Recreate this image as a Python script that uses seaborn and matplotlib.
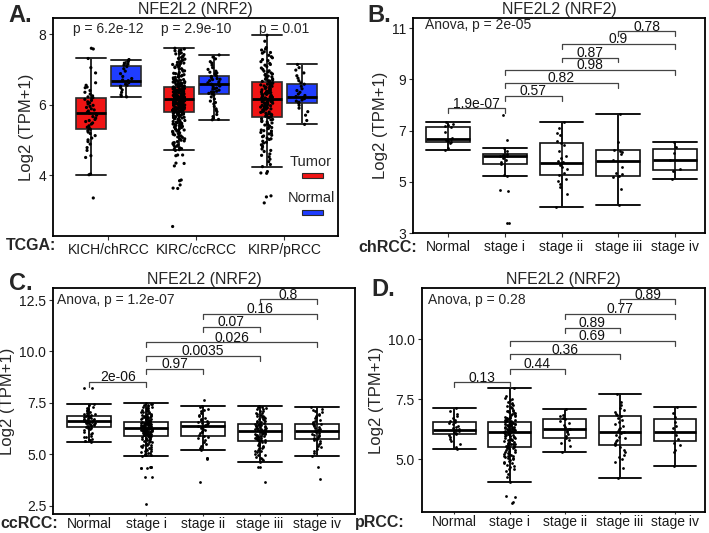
"""
NFE2L2 (NRF2) expression in TCGA kidney cancers: tumor vs normal and by stage.
"""

import numpy as np
import pandas as pd
import matplotlib
matplotlib.use("Agg")
import matplotlib.pyplot as plt
from matplotlib.patches import Rectangle
import seaborn as sns

sns.set_style("ticks")
plt.rcParams["font.family"] = ["Liberation Sans", "DejaVu Sans"]
plt.rcParams["axes.edgecolor"] = "black"
plt.rcParams["axes.linewidth"] = 1.3

np.random.seed(3)  # jitter only

# ── Panel A data: TCGA tumor vs normal ────────────────────────────────
a_cancers = ["KICH/chRCC", "KIRC/ccRCC", "KIRP/pRCC"]
a_types = ["Tumor", "Normal"]
a_pvals = ["p = 6.2e-12", "p = 2.9e-10", "p = 0.01"]

# box stats, order: KICH T, KICH N, KIRC T, KIRC N, KIRP T, KIRP N
a_lo = [4.01, 6.22, 4.71, 5.57, 4.24, 5.44]
a_q1 = [5.30, 6.52, 5.78, 6.30, 5.65, 6.04]
a_med = [5.76, 6.68, 6.16, 6.58, 6.16, 6.23]
a_q3 = [6.20, 7.10, 6.51, 6.82, 6.63, 6.58]
a_hi = [7.31, 7.28, 7.60, 7.41, 7.97, 7.14]

kich_tumor = [7.60, 7.58, 7.31, 7.05, 6.90, 6.62, 6.55, 6.50, 6.48, 6.40, 6.35, 6.30,
              6.25, 6.22, 6.20, 6.18, 6.15, 6.12, 6.08, 6.05, 6.02, 5.98, 5.95, 5.92,
              5.88, 5.85, 5.82, 5.78, 5.76, 5.74, 5.70, 5.66, 5.62, 5.58, 5.55, 5.52,
              5.48, 5.45, 5.40, 5.36, 5.32, 5.30, 5.26, 5.22, 5.18, 5.12, 5.05, 5.00,
              4.95, 4.88, 4.78, 4.70, 4.55, 4.50, 4.03, 4.01, 3.35]
kich_normal = [7.28, 7.25, 7.22, 7.18, 7.15, 7.12, 7.08, 7.02, 6.95, 6.88, 6.80, 6.74,
               6.70, 6.68, 6.66, 6.62, 6.58, 6.55, 6.52, 6.48, 6.42, 6.35, 6.28, 6.24, 6.22]
kirc_tumor = [7.60, 7.58, 7.55, 7.51, 7.47, 7.44, 7.42, 7.37, 7.34, 7.31, 7.27, 7.25,
              7.21, 7.18, 7.16, 7.13, 7.10, 7.07, 7.05, 7.02, 6.99, 6.96, 6.95, 6.91,
              6.89, 6.86, 6.85, 6.83, 6.80, 6.79, 6.77, 6.74, 6.73, 6.71, 6.69, 6.68,
              6.66, 6.64, 6.63, 6.61, 6.60, 6.58, 6.57, 6.55, 6.53,
              6.51, 6.50, 6.49, 6.47, 6.46, 6.45, 6.44, 6.42, 6.41, 6.40, 6.38, 6.37,
              6.36, 6.35, 6.33, 6.32, 6.31, 6.30, 6.29, 6.27, 6.26, 6.25, 6.24, 6.23,
              6.22, 6.21, 6.20, 6.19, 6.18, 6.17, 6.16, 6.43, 6.34, 6.28, 6.21,
              6.15, 6.14, 6.13, 6.12, 6.10, 6.09, 6.08, 6.07, 6.05, 6.04, 6.03, 6.01,
              6.00, 5.99, 5.97, 5.96, 5.95, 5.93, 5.92, 5.90, 5.89, 5.88, 5.86, 5.85,
              5.84, 5.82, 5.81, 5.80, 5.79, 5.78, 6.11, 6.02, 5.94, 5.87,
              5.77, 5.75, 5.73, 5.71, 5.69, 5.67, 5.65, 5.63, 5.61, 5.58, 5.56, 5.54,
              5.51, 5.49, 5.46, 5.44, 5.41, 5.38, 5.36, 5.33, 5.30, 5.27, 5.24, 5.21,
              5.18, 5.14, 5.11, 5.07, 5.03, 4.99, 4.95, 4.91, 4.86, 4.82, 4.77, 4.73,
              4.70, 4.57, 4.55, 4.57, 4.33, 4.34, 4.26, 3.86, 3.84, 3.72, 3.63, 3.62, 2.54,
              6.88, 6.81, 6.76, 6.70, 6.65, 6.62, 6.59, 6.56, 6.54, 6.52, 6.50, 6.48,
              6.47, 6.45, 6.44, 6.42, 6.41, 6.39, 6.38, 6.36, 6.35, 6.34, 6.33, 6.31,
              6.30, 6.29, 6.28, 6.27, 6.26, 6.25, 6.24, 6.23, 6.22, 6.21, 6.20, 6.19,
              6.18, 6.17, 6.16, 6.15, 6.14, 6.13, 6.12, 6.11, 6.10, 6.09, 6.08, 6.07,
              6.06, 6.05, 6.04, 6.03, 6.02, 6.01, 6.00, 5.99, 5.98, 5.97, 5.96, 5.95,
              5.94, 5.93, 5.92, 5.91, 5.90, 5.89, 5.88, 5.87, 5.86, 5.85, 5.84, 5.83,
              5.82, 5.81, 5.80, 5.79, 5.78, 5.76, 5.74, 5.72, 5.70, 5.68, 5.66, 5.64,
              5.62, 5.60, 5.57, 5.55, 5.52, 5.50, 5.47, 5.45, 5.42, 5.39, 5.35, 5.31,
              5.28, 5.25, 5.20, 5.16, 5.12, 5.08, 5.03, 4.97, 4.92, 4.88, 4.84, 4.79,
              4.75, 4.72, 7.02, 7.08, 7.14, 7.20, 7.29, 7.36, 7.45, 7.53]
kirc_normal = [7.41, 7.35, 7.30, 7.22, 7.18, 7.12, 7.05, 7.00, 6.95, 6.92, 6.88, 6.85,
               6.82, 6.80, 6.77, 6.74, 6.71, 6.68, 6.65, 6.62, 6.60, 6.58, 6.56, 6.53,
               6.50, 6.47, 6.44, 6.41, 6.38, 6.35, 6.32, 6.30, 6.27, 6.22, 6.16, 6.10,
               6.02, 5.95, 5.88, 5.80, 5.72, 5.66, 5.61, 5.58, 5.57, 6.90, 6.72, 6.55,
               6.45, 6.36, 6.06, 5.84]
kirp_tumor = [7.97, 7.80, 7.62, 7.55, 7.50, 7.46, 7.40, 7.33, 7.28, 7.22, 7.17, 7.12,
              7.08, 7.04, 7.00, 6.96, 6.93, 6.90, 6.87, 6.84, 6.81, 6.78, 6.75, 6.72,
              6.70, 6.68, 6.66, 6.64,
              6.62, 6.60, 6.58, 6.56, 6.54, 6.52, 6.50, 6.48, 6.46, 6.44, 6.42, 6.40,
              6.38, 6.36, 6.34, 6.32, 6.30, 6.28, 6.26, 6.24, 6.22, 6.20, 6.18, 6.17,
              6.45, 6.35, 6.25, 6.19,
              6.15, 6.13, 6.11, 6.09, 6.07, 6.05, 6.03, 6.01, 5.98, 5.96, 5.94, 5.92,
              5.90, 5.88, 5.85, 5.83, 5.80, 5.78, 5.76, 5.73, 5.71, 5.69, 5.67, 5.66,
              6.06, 5.91,
              5.63, 5.60, 5.57, 5.54, 5.51, 5.48, 5.45, 5.42, 5.39, 5.35, 5.32, 5.28,
              5.25, 5.21, 5.17, 5.13, 5.09, 5.05, 5.01, 4.96, 4.91, 4.86, 4.80, 4.74,
              4.67, 4.60, 4.52, 4.45, 4.38, 4.30, 4.24, 4.10, 4.06, 4.05, 3.41, 3.38, 3.21,
              6.95, 6.86, 6.79, 6.73, 6.67, 6.61, 6.57, 6.53, 6.49, 6.43, 6.39, 6.33,
              6.29, 6.23, 6.21, 6.14, 6.12, 6.08, 6.04, 6.00, 5.97, 5.93, 5.87, 5.84,
              5.79, 5.74, 5.70, 5.64, 5.58, 5.52, 5.46, 5.40, 5.33, 5.26, 5.19, 5.11,
              5.03, 4.93, 4.83, 4.70, 4.56, 7.14, 7.25, 7.36, 7.48, 7.58]
kirp_normal = [7.14, 7.05, 6.98, 6.90, 6.82, 6.75, 6.68, 6.62, 6.58, 6.52, 6.45, 6.40,
               6.35, 6.30, 6.26, 6.23, 6.20, 6.17, 6.13, 6.10, 6.07, 6.04, 5.98, 5.90,
               5.80, 5.70, 5.55, 5.44]

# ── Panels B-D data: expression by stage ──────────────────────────────
stages = ["Normal", "stage i", "stage ii", "stage iii", "stage iv"]

# chRCC (B)
b_lo = [6.25, 5.23, 4.04, 4.11, 5.12]
b_q1 = [6.55, 5.70, 5.29, 5.23, 5.48]
b_med = [6.66, 6.02, 5.74, 5.80, 5.85]
b_q3 = [7.13, 6.08, 6.50, 6.26, 6.29]
b_hi = [7.32, 6.34, 7.33, 7.64, 6.54]
b_normal = [7.32, 7.26, 7.22, 7.18, 7.14, 6.95, 6.70, 6.66, 6.62, 6.58, 6.55, 6.50, 6.32, 6.26]
b_stage1 = [7.61, 6.62, 6.34, 6.22, 6.10, 6.05, 6.02, 6.00, 5.95, 5.85, 5.78, 5.72,
            5.26, 5.23, 4.68, 4.66, 3.40, 3.40]
b_stage2 = [7.33, 7.12, 6.92, 6.85, 6.58, 6.52, 6.45, 6.22, 6.02, 5.95, 5.82, 5.76,
            5.70, 5.66, 5.60, 5.52, 5.35, 5.28, 5.12, 5.02, 4.92, 4.82, 4.55, 4.04]
b_stage3 = [7.64, 6.56, 6.26, 6.20, 6.16, 6.10, 5.85, 5.60, 5.35, 5.30, 5.24, 5.20, 4.72, 4.11]
b_stage4 = [6.54, 6.38, 6.12, 5.85, 5.50, 5.42, 5.12]
b_anova = "Anova, p = 2e-05"
b_pairs = [(0, 1), (1, 2), (1, 3), (1, 4), (2, 3), (2, 4), (3, 4)]
b_brk_y = [7.87, 8.36, 8.85, 9.36, 9.85, 10.39, 10.87]
b_brk_lab = ["1.9e-07", "0.57", "0.82", "0.98", "0.87", "0.9", "0.78"]

# ccRCC (C)
c_lo = [5.61, 4.92, 5.21, 4.61, 4.92]
c_q1 = [6.34, 5.90, 5.90, 5.66, 5.73]
c_med = [6.62, 6.26, 6.39, 6.12, 6.12]
c_q3 = [6.86, 6.57, 6.55, 6.46, 6.49]
c_hi = [7.44, 7.48, 7.36, 7.36, 7.28]
c_normal = [8.21, 8.20, 7.44, 7.38, 7.32, 7.25, 7.20, 7.15, 7.10, 7.05, 7.00, 6.96,
            6.92, 6.89, 6.86, 6.84, 6.81, 6.78, 6.75, 6.72, 6.70, 6.68, 6.65, 6.63,
            6.61, 6.59, 6.56, 6.54, 6.51, 6.48, 6.45, 6.42, 6.39, 6.36, 6.34, 6.31,
            6.27, 6.22, 6.17, 6.10, 6.04, 5.97, 5.90, 5.82, 5.75, 5.70, 5.66, 5.63, 5.61,
            6.97, 6.79, 6.67, 6.58, 6.50, 6.40, 6.30, 5.86, 5.68]
c_stage1 = [7.48, 7.45, 7.41, 7.38, 7.34, 7.30, 7.27, 7.23, 7.20, 7.16, 7.13, 7.10,
            7.07, 7.04, 7.01, 6.98, 6.95, 6.92, 6.90, 6.87, 6.85, 6.82, 6.80, 6.78,
            6.76, 6.74, 6.72, 6.70, 6.68, 6.66, 6.64, 6.62, 6.60, 6.58,
            6.56, 6.55, 6.53, 6.52, 6.50, 6.49, 6.47, 6.46, 6.44, 6.43, 6.41, 6.40,
            6.38, 6.37, 6.35, 6.34, 6.32, 6.31, 6.29, 6.28, 6.27, 6.26, 6.48, 6.42,
            6.36, 6.30, 6.33, 6.45, 6.39,
            6.25, 6.24, 6.22, 6.21, 6.19, 6.18, 6.16, 6.15, 6.13, 6.11, 6.09, 6.08,
            6.06, 6.04, 6.02, 6.00, 5.98, 5.97, 5.95, 5.93, 5.91, 6.20, 6.12, 6.05,
            5.99, 5.94,
            5.88, 5.85, 5.82, 5.79, 5.76, 5.73, 5.70, 5.66, 5.63, 5.59, 5.55, 5.51,
            5.47, 5.43, 5.39, 5.35, 5.31, 5.26, 5.21, 5.16, 5.11, 5.06, 5.01, 4.97,
            4.94, 4.92, 4.40, 4.37, 4.34, 4.32, 3.88, 3.87, 2.58,
            6.88, 6.79, 6.71, 6.63, 6.59, 6.54, 6.51, 6.47, 6.44, 6.39, 6.36, 6.33,
            6.30, 6.27, 6.24, 6.21, 6.18, 6.15, 6.12, 6.09, 6.06, 6.03, 6.00, 5.96,
            5.92, 5.86, 5.80, 5.74, 5.67, 5.60, 5.52, 5.44, 5.36, 5.27, 5.18, 5.08,
            4.98, 7.05, 7.18, 7.32, 7.42, 4.38, 4.35]
c_stage2 = [7.64, 7.36, 7.30, 7.22, 7.15, 7.08, 7.00, 6.92, 6.85, 6.78, 6.72, 6.66,
            6.60, 6.56, 6.53, 6.50, 6.47, 6.44, 6.41, 6.39, 6.36, 6.33, 6.29, 6.25,
            6.20, 6.14, 6.08, 6.02, 5.96, 5.91, 5.85, 5.78, 5.70, 5.60, 5.50, 5.40,
            5.30, 5.21, 4.82, 4.80, 4.79, 3.64]
c_stage3 = [7.36, 7.32, 7.28, 7.22, 7.18, 7.12, 7.08, 7.03, 6.98, 6.93, 6.88, 6.84,
            6.80, 6.76, 6.72, 6.68, 6.64, 6.60, 6.56, 6.52, 6.48,
            6.45, 6.43, 6.40, 6.38, 6.35, 6.33, 6.30, 6.28, 6.25, 6.23, 6.20, 6.18,
            6.15, 6.13, 6.36, 6.26, 6.17,
            6.11, 6.08, 6.05, 6.02, 5.99, 5.96, 5.93, 5.90, 5.87, 5.84, 5.81, 5.78,
            5.75, 5.72, 5.69, 5.67, 6.00, 5.88,
            5.64, 5.60, 5.55, 5.50, 5.45, 5.40, 5.35, 5.29, 5.23, 5.17, 5.10, 5.03,
            4.95, 4.87, 4.78, 4.70, 4.61, 4.38, 4.36, 3.67,
            7.25, 7.00, 6.82, 6.70, 6.58, 6.42, 6.32, 6.22, 6.14, 6.06, 5.97, 5.86,
            5.77, 5.70, 5.58, 5.47, 5.32, 5.15, 4.98, 4.80]
c_stage4 = [7.28, 7.22, 7.15, 7.10, 7.04, 6.98, 6.92, 6.86, 6.80, 6.74, 6.68, 6.62,
            6.57, 6.52, 6.49, 6.45, 6.41, 6.37, 6.33, 6.29, 6.25, 6.21, 6.17, 6.13,
            6.11, 6.08, 6.04, 6.00, 5.96, 5.92, 5.88, 5.84, 5.80, 5.76, 5.73, 5.68,
            5.62, 5.56, 5.49, 5.42, 5.34, 5.25, 5.15, 5.05, 4.92, 4.37, 3.78]
c_anova = "Anova, p = 1.2e-07"
c_pairs = [(0, 1), (1, 2), (1, 3), (1, 4), (2, 3), (2, 4), (3, 4)]
c_brk_y = [8.50, 9.13, 9.79, 10.44, 11.19, 11.82, 12.53]
c_brk_lab = ["2e-06", "0.97", "0.0035", "0.026", "0.07", "0.16", "0.8"]

# pRCC (D)
d_lo = [5.43, 4.05, 5.32, 4.24, 4.72]
d_q1 = [6.04, 5.50, 5.90, 5.58, 5.78]
d_med = [6.22, 6.15, 6.25, 6.14, 6.15]
d_q3 = [6.56, 6.54, 6.66, 6.82, 6.68]
d_hi = [7.12, 7.98, 7.09, 7.72, 7.19]
d_normal = [7.12, 7.00, 6.90, 6.80, 6.72, 6.65, 6.58, 6.54, 6.50, 6.45, 6.40, 6.35,
            6.30, 6.26, 6.22, 6.18, 6.14, 6.10, 6.06, 6.02, 5.95, 5.85, 5.75, 5.62,
            5.50, 5.43]
d_stage1 = [7.98, 7.62, 7.50, 7.45, 7.38, 7.30, 7.24, 7.18, 7.12, 7.07, 7.03, 6.99,
            6.95, 6.91, 6.87, 6.84, 6.80, 6.77, 6.74, 6.71, 6.68, 6.65, 6.62, 6.60,
            6.57, 6.55,
            6.53, 6.51, 6.49, 6.47, 6.45, 6.43, 6.41, 6.39, 6.37, 6.35, 6.33, 6.31,
            6.29, 6.27, 6.25, 6.23, 6.21, 6.19, 6.17, 6.16, 6.44, 6.34, 6.24,
            6.14, 6.12, 6.10, 6.07, 6.05, 6.02, 5.99, 5.96, 5.93, 5.90, 5.87, 5.84,
            5.80, 5.77, 5.73, 5.70, 5.66, 5.62, 5.58, 5.55, 5.52, 5.50, 6.00, 5.82, 5.64,
            5.48, 5.44, 5.40, 5.36, 5.32, 5.28, 5.24, 5.20, 5.16, 5.12, 5.08, 5.04,
            5.00, 4.95, 4.90, 4.84, 4.78, 4.70, 4.62, 4.52, 4.40, 4.25, 4.05,
            3.46, 3.44, 3.21, 3.19,
            7.02, 6.93, 6.86, 6.78, 6.70, 6.63, 6.58, 6.52, 6.48, 6.42, 6.38, 6.32,
            6.28, 6.22, 6.18, 6.13, 6.09, 6.04, 5.98, 5.91, 5.85, 5.79, 5.71, 5.63,
            5.56, 5.46, 5.38, 5.30, 5.22, 5.14, 5.06, 4.97, 4.87, 4.74, 4.58, 7.20,
            7.35, 7.55]
d_stage2 = [7.09, 6.85, 6.80, 6.72, 6.66, 6.60, 6.52, 6.42, 6.33, 6.28, 6.25, 6.20,
            6.12, 6.05, 5.98, 5.90, 5.80, 5.70, 5.55, 5.32]
d_stage3 = [7.72, 7.40, 7.28, 7.15, 7.05, 6.98, 6.90, 6.84, 6.80, 6.72, 6.65, 6.55,
            6.48, 6.40, 6.32, 6.25, 6.18, 6.14, 6.10, 6.02, 5.95, 5.90, 5.82, 5.75,
            5.68, 5.62, 5.58, 5.50, 5.40, 5.30, 5.20, 5.10, 5.00, 4.90, 4.65, 4.24]
d_stage4 = [7.19, 6.92, 6.75, 6.55, 6.38, 6.30, 6.15, 6.00, 5.85, 5.70, 5.58, 5.40, 5.30, 4.72]
d_anova = "Anova, p = 0.28"
d_pairs = [(0, 1), (1, 2), (1, 3), (1, 4), (2, 3), (2, 4), (3, 4)]
d_brk_y = [8.20, 8.75, 9.36, 9.92, 10.47, 11.03, 11.65]
d_brk_lab = ["0.13", "0.44", "0.36", "0.69", "0.89", "0.77", "0.89"]

TUMOR_RED = "#f01414"
NORMAL_BLUE = "#1f3dff"
TITLE = "NFE2L2 (NRF2)"
YLABEL = "Log2 (TPM+1)"


def long_df(groups, names, col):
    rows = []
    for name, vals in zip(names, groups):
        for v in vals:
            rows.append((name, v))
    return pd.DataFrame(rows, columns=[col, "value"])


def draw_boxes(ax, pos, lo, q1, med, q3, hi, width, faces, edge):
    stats = [dict(whislo=a, q1=b, med=c, q3=d, whishi=e, fliers=[])
             for a, b, c, d, e in zip(lo, q1, med, q3, hi)]
    ax.vlines(pos, lo, hi, color=edge, lw=1.2, zorder=1)
    res = ax.bxp(stats, positions=pos, widths=width, capwidths=width,
                 patch_artist=True, showfliers=False, manage_ticks=False,
                 boxprops=dict(edgecolor=edge, linewidth=1.2),
                 medianprops=dict(color="black", linewidth=2.0),
                 whiskerprops=dict(color=edge, linewidth=1.2),
                 capprops=dict(color=edge, linewidth=1.4), zorder=2)
    for patch, fc in zip(res["boxes"], faces):
        patch.set_facecolor(fc)


def brackets(ax, pairs, ys, labels, tick):
    for (a, b), y, lab in zip(pairs, ys, labels):
        ax.plot([a, a, b, b], [y - tick, y, y, y - tick], color="#444444", lw=0.9, zorder=3)
        ax.annotate(lab, xy=((a + b) / 2, y), xytext=(0, 0.6), textcoords="offset points",
                    ha="center", va="baseline", fontsize=10, color="#111111")


def style_axes(ax, xpad=2, xlen=3):
    for s in ax.spines.values():
        s.set_visible(True)
        s.set_color("black")
        s.set_linewidth(1.3)
    ax.tick_params(axis="both", length=3, width=0.8, color="#333333",
                   labelsize=10, labelcolor="#1a1a1a", pad=2)
    ax.tick_params(axis="x", length=xlen, pad=xpad)
    ax.set_title(TITLE, fontsize=11.5, pad=3)
    ax.set_ylabel(YLABEL, fontsize=12, labelpad=3)
    ax.set_xlabel("")


fig = plt.figure(figsize=(7.09, 5.33), dpi=100)

# ═══════════════════ Panel A ═══════════════════
axA = fig.add_axes([0.0752, 0.5572, 0.4016, 0.4084])
dfA = pd.concat([
    long_df([kich_tumor, kirc_tumor, kirp_tumor], a_cancers, "cancer").assign(type="Tumor"),
    long_df([kich_normal, kirc_normal, kirp_normal], a_cancers, "cancer").assign(type="Normal"),
])
posA = [i + off for i in range(len(a_cancers)) for off in (-0.2, 0.2)]
facesA = [TUMOR_RED, NORMAL_BLUE] * len(a_cancers)
draw_boxes(axA, posA, a_lo, a_q1, a_med, a_q3, a_hi, 0.34, facesA, "#2a2a2a")
sns.stripplot(data=dfA, x="cancer", y="value", hue="type", order=a_cancers,
              hue_order=a_types, dodge=True, jitter=0.14,
              palette={"Tumor": "black", "Normal": "black"}, size=2.3,
              linewidth=0, legend=False, zorder=3, ax=axA)
for i, p in enumerate(a_pvals):
    axA.text(i, 8.16, p, ha="center", va="center", fontsize=10)
axA.set_xlim(-0.625, 2.61)
axA.set_ylim(2.27, 8.45)
axA.set_yticks([4, 6, 8])
axA.set_xticks(range(len(a_cancers)))
axA.set_xticklabels(a_cancers)
style_axes(axA)
# legend: label above its key
for lab, col, ty, ky in [("Tumor", TUMOR_RED, 0.34, 0.266), ("Normal", NORMAL_BLUE, 0.175, 0.096)]:
    axA.text(0.905, ty, lab, transform=axA.transAxes, ha="center", va="center", fontsize=10.5)
    axA.add_patch(Rectangle((0.874, ky), 0.074, 0.022, transform=axA.transAxes,
                            facecolor=col, edgecolor="#2a2a2a", lw=0.8))


def stage_panel(rect, groups, lo, q1, med, q3, hi, anova, anova_xy, pairs, brk_y, brk_lab,
                tick, xlim, ylim, yticks, fmt, xpad, xlen):
    ax = fig.add_axes(rect)
    df = long_df(groups, stages, "stage")
    pos = list(range(len(stages)))
    draw_boxes(ax, pos, lo, q1, med, q3, hi, 0.77, ["none"] * len(stages), "#111111")
    sns.stripplot(data=df, x="stage", y="value", order=stages, color="black",
                  jitter=0.1, size=2.0, linewidth=0, zorder=3, ax=ax)
    brackets(ax, pairs, brk_y, brk_lab, tick)
    ax.text(anova_xy[0], anova_xy[1], anova, transform=ax.transAxes,
            ha="left", va="center", fontsize=10)
    ax.set_xlim(*xlim)
    ax.set_ylim(*ylim)
    ax.set_yticks(yticks)
    ax.set_yticklabels([fmt.format(t) for t in yticks])
    ax.set_xticks(pos)
    ax.set_xticklabels(stages)
    style_axes(ax, xpad, xlen)
    return ax


# ═══════════════════ Panel B ═══════════════════
stage_panel([0.5825, 0.5623, 0.4118, 0.4034],
            [b_normal, b_stage1, b_stage2, b_stage3, b_stage4],
            b_lo, b_q1, b_med, b_q3, b_hi, b_anova, (0.041, 0.969),
            b_pairs, b_brk_y, b_brk_lab, 0.19, (-0.62, 4.53), (3.0, 11.38),
            [3, 5, 7, 9, 11], "{:g}", 2, 3)

# ═══════════════════ Panel C ═══════════════════
stage_panel([0.0752, 0.0351, 0.4255, 0.4240],
            [c_normal, c_stage1, c_stage2, c_stage3, c_stage4],
            c_lo, c_q1, c_med, c_q3, c_hi, c_anova, (0.012, 0.948),
            c_pairs, c_brk_y, c_brk_lab, 0.24, (-0.63, 4.67), (2.08, 13.07),
            [2.5, 5.0, 7.5, 10.0, 12.5], "{:.1f}", 0.5, 1.5)

# ═══════════════════ Panel D ═══════════════════
stage_panel([0.5948, 0.0388, 0.3996, 0.4203],
            [d_normal, d_stage1, d_stage2, d_stage3, d_stage4],
            d_lo, d_q1, d_med, d_q3, d_hi, d_anova, (0.022, 0.948),
            d_pairs, d_brk_y, d_brk_lab, 0.20, (-0.59, 4.54), (2.80, 12.11),
            [5.0, 7.5, 10.0], "{:.1f}", 0.5, 1.5)

# ── panel letters and row labels ──
W, H = 709, 533
for txt, x, y in [("A.", 8, 15), ("B.", 367, 15), ("C.", 9, 284), ("D.", 371, 289)]:
    fig.text(x / W, 1 - y / H, txt, fontsize=17, fontweight="bold", va="center", ha="left")
for txt, x, y in [("TCGA:", 6, 246), ("chRCC:", 358, 248), ("ccRCC:", 0, 523), ("pRCC:", 355, 523)]:
    fig.text(x / W, 1 - y / H, txt, fontsize=11.5, fontweight="bold", va="center", ha="left")

fig.savefig("out.png", dpi=100)
print("saved out.png")
